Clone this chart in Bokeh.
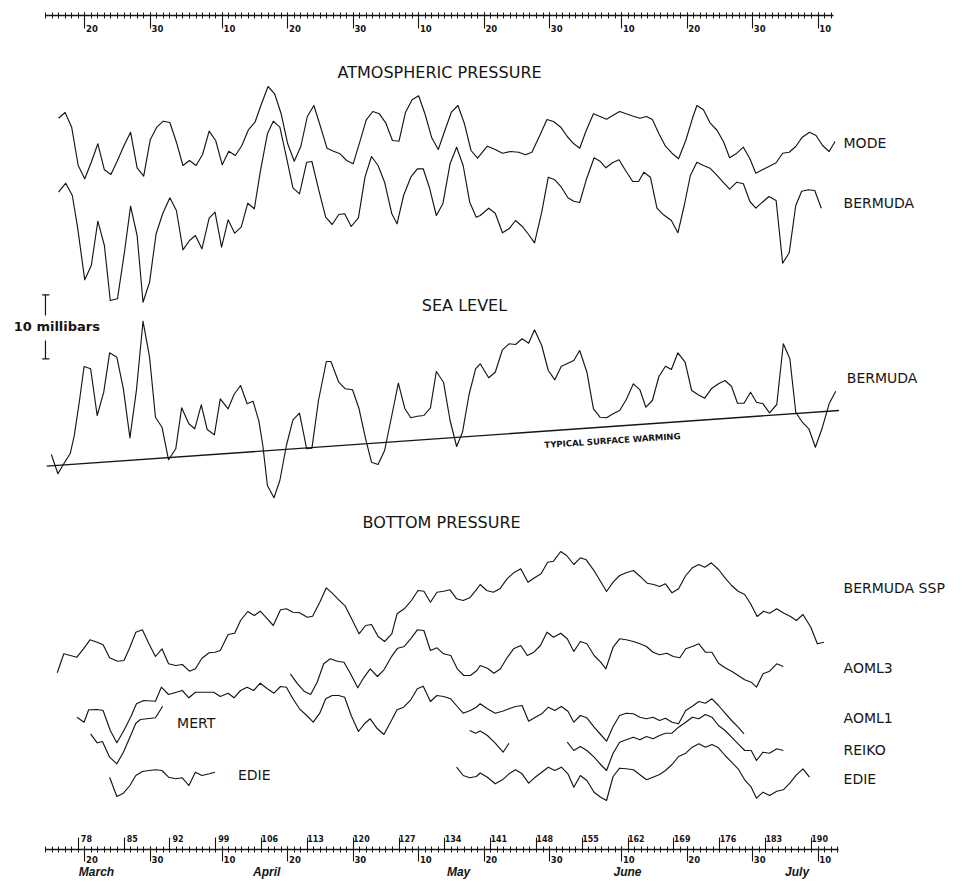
from bokeh.plotting import figure
from bokeh.models import Range1d, LinearAxis, FixedTicker
from bokeh.core.properties import value
from bokeh.embed import file_html
from bokeh.resources import INLINE

NAN = float("nan")

# ---------------- tick labels (day of year) ----------------
dom_days = [79, 89, 100, 110, 120, 130, 140, 150, 161, 171, 181, 191]
dom_labels = ["20", "30", "10", "20", "30", "10", "20", "30", "10", "20", "30", "10"]
daynum_days = [78, 85, 92, 99, 106, 113, 120, 127, 134, 141, 148, 155, 162, 169, 176, 183, 190]
daynum_labels = [str(d) for d in daynum_days]
month_names = ["March", "April", "May", "June", "July"]
month_label_days = [80.8, 106.8, 136.1, 161.9, 187.8]
ruler_days = list(range(73, 195))

# ---------------- data: day of year, relative level (chart units, 6.4 units = 1 mb) ----------------
# Atmospheric pressure - MODE
mode_day = list(range(75, 140)) + [
    140.5, 141.7, 142.8, 144.0, 145.3, 146.3, 147.3, 148.5, 149.6, 150.6,
    151.7, 152.7, 153.7, 154.6, 155.6, 156.7, 157.7, 158.7, 159.7, 160.7,
    161.7, 162.8, 163.8, 164.8, 165.7, 166.7, 167.7, 168.7, 169.7, 170.8,
    171.8, 172.5, 173.5, 174.5, 175.6, 176.6, 177.5, 178.6, 179.6, 180.6,
    181.5, 182.5, 183.5, 184.6, 185.6, 186.6, 187.6, 188.6, 189.7, 190.7,
    191.7, 192.7, 193.6]
mode_val = [
    22.3, 28, 13.3, -25, -38.3, -21.7, -3.3, -29.3, -34, -20,
    -5, 8.3, -27.3, -35.7, 0.7, 13.3, 19.3, 18, -1.7, -25,
    -20, -25, -14, 9.3, 0, -24.3, -10.7, -15, -5, 10.7,
    18.3, 36.7, 54, 46.7, 26.7, -3.3, -20.7, -6, 24, 35,
    14, -7.7, -10.7, -13.3, -20, -23.3, -1.7, 20.7, 29, 26.7,
    17.3, 0, -0.7, 28.3, 40.7, 44.7, 26, 2.7, -9, 10,
    28.3, 35, 16.7, -10, -17.7,
    -5.7, -9, -12.7, -11, -11.7, -14.3, -11.7, 5, 21, 19,
    13.3, 4, -3.3, -7.7, 10, 26.7, 24, 21.3, 25.3, 29,
    26.7, 24.3, 22.3, 24, 21, 6.7, -5.7, -12.7, -18.3, 0,
    21.7, 35, 30.7, 17.7, 10, -1.7, -17.3, -12.7, -6.7, -18.3,
    -32.7, -29.3, -26, -22.3, -12.7, -11.7, -6, 3.3, 8.3, 5,
    -5, -11, -1]

# Atmospheric pressure - BERMUDA
bda_atm_day = [
    75.0, 76.1, 77.1, 77.9, 79.0, 80.0, 81.0, 82.0, 82.9, 84.0,
    85.1, 86.0, 87.0, 87.9, 88.9, 89.9, 90.9, 92.0, 93.0, 94.0,
    95.0, 95.9, 96.9, 98.0, 98.9, 99.9, 100.9, 101.9, 102.9, 103.9,
    104.9, 105.8, 106.9, 107.8, 108.8, 109.8, 110.8, 111.8, 112.9, 113.7,
    114.7, 115.8, 116.8, 117.8, 118.7, 119.7, 120.8, 121.8, 122.8, 123.8,
    124.8, 125.9, 126.7, 127.7, 128.8, 129.8, 130.7, 131.7, 132.7, 133.7,
    134.8, 135.8, 136.8, 137.8, 138.8, 139.4,
    140.7, 141.7, 142.8, 143.8, 144.8, 145.8, 146.8, 147.7, 148.8, 149.8,
    150.8, 151.8, 152.8, 153.7, 154.6, 155.6, 156.8, 157.7, 158.6, 159.6,
    160.6, 161.6, 162.7, 163.6, 164.4, 165.4, 166.4, 167.4, 168.6, 169.6,
    170.6, 171.5, 172.5, 173.5, 174.5, 175.5, 176.5, 177.5, 178.6, 179.6,
    180.6, 181.5, 182.5, 183.5, 184.6, 185.6, 186.6, 187.6, 188.5, 189.5,
    190.5, 191.5]
bda_atm_val = [
    18.3, 27.3, 15, -16.7, -69.3, -55, -10.7, -35, -90, -88.3,
    -40, 4.3, -25, -91.7, -71.7, -23.3, -3.3, 12.7, 0, -39.3,
    -30, -25, -38.3, -7.7, -1.7, -36.7, -9.3, -22.7, -16.7, 7.3,
    1.7, 38.3, 76.7, 89.3, 83.3, 53.3, 22.7, 16.7, 48.3, 49,
    21.7, -6.7, -14, -4, -3.3, -16, -7.3, 33.3, 54, 45,
    28.3, -3.3, -13.3, 15, 33.3, 41.7, 41.7, 21.7, -5, 6.7,
    46.7, 63.3, 45, 8.3, -6.7, -5,
    2.3, -2.7, -22.3, -18.3, -10, -15.7, -24, -32.3, -1.7, 33.3,
    30.7, 23.3, 12.7, 9.3, 8, 30.7, 52.7, 49.3, 42.7, 47.7,
    50.7, 40, 29, 29, 38.3, 33.3, 2.3, -4.3, -10, -22.3,
    6, 35, 48.3, 45, 42.3, 35.7, 28.3, 21.3, 28.3, 26.7,
    9, 2.3, 8.3, 14, 10, -52.7, -42.3, 5, 19.3, 20.7,
    20, 2.3]

# Sea level - BERMUDA
sea_day = [
    73.9, 74.9, 75.8, 76.8, 77.4, 78.2, 78.9, 79.9, 80.9, 81.9,
    82.8, 83.9, 84.9, 85.9, 86.9, 87.9, 88.9, 89.8, 90.8, 91.8,
    92.9, 93.8, 94.9, 95.8, 96.8, 97.7, 98.8, 99.7, 100.9, 101.8,
    102.8, 103.8, 104.7, 105.6, 106.2, 106.9, 107.9, 108.8, 109.8, 110.8,
    111.8, 112.9, 113.7, 114.7, 115.9, 116.6, 117.8, 118.8, 119.9, 120.9,
    121.9, 122.8, 123.8, 124.8, 125.9, 126.9, 127.9, 128.8, 129.8, 130.8,
    131.8, 132.7, 133.8, 134.8, 135.8, 136.7, 137.7, 138.7, 139.4,
    140.7, 141.7, 142.8, 143.8, 144.8, 145.8, 146.8, 147.7, 148.8, 149.8,
    150.8, 151.8, 152.8, 153.7, 154.6, 155.7, 156.7, 157.7, 158.7, 159.7,
    160.7, 161.7, 162.8, 163.8, 164.7, 165.7, 166.7, 167.7, 168.6, 169.6,
    170.7, 171.7, 172.7, 173.7, 174.7, 175.8, 176.8, 177.8, 178.7, 179.7,
    180.7, 181.6, 182.6, 183.6, 184.7, 185.7, 186.7, 187.6, 188.6, 189.6,
    190.6, 191.6, 192.7, 193.7]
sea_val = [
    -34, -53.3, -43.3, -32.7, -15, 20, 54, 51.7, 5, 28.3,
    67.7, 63.3, 31.7, -17.3, 30.7, 99.3, 63.3, 3.3, -6.7, -39.3,
    -28.3, 12.7, -3.3, -8.3, 15.7, -9, -14.3, 21.7, 11.7, 26,
    35, 16.7, 19.3, -0.7, -25, -65, -77.3, -60, -25, 0.7,
    7.3, -28.3, -27.7, 20, 59, 59, 38.3, 31.7, 30.7, 11.7,
    -18.3, -41.7, -44, -30, 5, 37.3, 11.7, 2.7, 4.3, 5,
    12.7, 49, 38.3, 0, -26, -11.7, 26, 51.7, 56.7,
    42.7, 48.3, 70.7, 76.7, 76, 81.7, 77.3, 90.7, 75, 50,
    40.7, 54.3, 57.3, 60, 70, 48.3, 11.7, 3.3, 2.7, 6.7,
    10, 20.7, 36.7, 30.7, 13.3, 20, 44, 54.3, 51, 67.7,
    58.3, 30, 25.7, 22.3, 31.7, 36.7, 40, 34, 17.3, 17.3,
    28.3, 18.3, 16.7, 7.7, 16, 76.7, 61.7, 8.3, -1.7, -8.3,
    -26.7, -8.3, 16.7, 29.3]
# "Typical surface warming" reference line
warming_day = [73.2, 194.2]
warming_val = [-45.7, 10.0]

# Bottom pressure - BERMUDA SSP
ssp_day = [
    74.8, 75.8, 76.8, 77.8, 78.8, 79.8, 80.9, 81.8, 82.8,
    84.0, 85.0, 85.9, 86.8, 87.8, 88.8, 89.8, 90.8, 91.8, 92.9,
    93.9, 95.0, 95.9, 96.9, 98.0, 98.9, 99.7, 100.9, 101.9, 102.8,
    103.9, 104.9, 105.8, 106.9, 107.8, 108.9, 109.8, 110.8, 111.8, 113.0,
    113.8, 114.9, 115.9, 116.8, 117.8, 118.8, 119.9, 120.9, 121.9, 122.8,
    123.8, 124.8, 125.9, 126.7, 127.9, 128.9, 129.9, 130.8, 131.8, 132.8,
    133.8, 134.8, 135.8, 136.8, 137.8, 138.8, 139.4,
    140.4, 141.4, 142.4, 143.5, 144.5, 145.6, 146.7, 147.7, 148.7, 149.7,
    150.6, 151.7, 152.6, 153.7, 154.7, 155.6, 156.7, 157.7, 158.7, 159.7,
    160.7, 161.7, 162.8, 163.8, 164.9, 165.9, 166.8, 167.7, 168.7, 169.7,
    170.8, 171.8, 172.8, 173.7, 174.7, 175.8, 176.8, 177.8, 178.8, 179.8,
    180.7, 181.7, 182.7, 183.6, 184.7, 185.8, 186.8, 187.7, 188.7, 189.9,
    190.9, 191.9]
ssp_val = [
    -52.3, -33.3, -35, -36.7, -28.3, -19.3, -21.7, -24.3, -37.3,
    -40.7, -40, -26.7, -11.7, -9.3, -23.3, -36, -28.3, -43.3, -45,
    -44, -50.7, -48.3, -37.7, -32.3, -31.7, -30, -14, -12.7, 0,
    9, 5, 9.3, 1.7, -5, 10.7, 11.7, 8.3, 7.7, 3.3,
    4.3, 18.3, 32.7, 27.3, 20.7, 14.3, 0, -13.3, -5, -4,
    -16, -21, -13.3, 6.7, 12.3, 20, 30, 29.3, 18.3, 28.3,
    29.3, 30.7, 21.7, 20, 22.7, 30.7, 36,
    30, 28.3, 31.7, 41.7, 47.7, 51.7, 38.3, 42.7, 46.7, 58.3,
    59.3, 69, 65, 56, 62.7, 60.7, 50.7, 40, 29, 38.3,
    45, 47.7, 50, 44.3, 37.3, 36, 34, 36.7, 27.7, 31.7,
    45, 52.7, 56, 53.3, 57.7, 51, 42.7, 35, 29.3, 26,
    16.7, 4, 9.3, 7.3, 11.7, 7.3, 4, 0, 6, -6.7,
    -23.3, -21.7]

# Bottom pressure - AOML3
aoml3_day = [
    110.4, 111.5, 112.5, 113.5, 114.5, 115.5, 116.5, 117.6, 118.6, 119.6,
    120.7, 121.6, 122.6, 123.7, 124.7, 125.8, 126.8, 127.8, 128.9, 129.8,
    130.8, 131.8, 132.8, 133.8, 134.9, 135.9, 136.9, 137.9, 138.9, 139.4,
    140.5, 141.5, 142.5, 143.5, 144.5, 145.6, 146.6, 147.6, 148.6, 149.6,
    150.6, 151.7, 152.7, 153.7, 154.7, 155.7, 156.8, 157.8, 158.6, 159.7,
    160.7, 161.7, 162.8, 163.8, 164.8, 165.8, 166.8, 167.9, 168.9, 169.9,
    170.8, 171.8, 172.8, 173.8, 174.8, 175.8, 176.8, 177.8, 178.8, 179.8,
    180.8, 181.6, 182.6, 183.6, 184.7, 185.7]
aoml3_val = [
    -13.3, -23.3, -30.7, -34, -21.7, -3.3, 1.7, -0.7, -1.7, -13.3,
    -27.3, -17.3, -8.3, -16, -9.3, 3.3, 12.3, 14, 22.7, 30.7,
    30, 10, 12.7, 6.7, 5, -8.3, -15, -15, -10, -5,
    -7.7, -12.7, -8.3, 2.7, 11.7, 15, 5, 8.3, 15, 28.3,
    23.3, 27.3, 21.7, 9, 19, 16.7, 5, -1.7, -8.3, 13.3,
    21.7, 20.7, 19, 16.7, 14, 8.3, 5.7, 7.3, 4, 2.7,
    11.7, 14, 16.7, 8.3, 8.3, -2.7, -7.3, -10.7, -15, -19.3,
    -21.7, -26.7, -13.3, -10.7, -3.3, -6]

# Bottom pressure - AOML1
aoml1_day = [
    77.8, 78.9, 79.6, 80.9, 81.8, 82.9, 83.9, 84.9, 86.0, 86.9,
    88.0, 89.8, 90.7, 91.8, 93.9, 94.9, 95.9, 98.7, 99.7, 100.9,
    101.8, 102.8, 103.8, 104.8, 105.8, 106.9, 107.9, 108.9, 109.8, 110.8,
    111.8, 112.9, 113.9, 114.9, 115.8, 116.8, 117.8, 118.7, 119.7, 120.8,
    121.8, 122.6, 123.7, 124.7, 125.7, 126.7, 127.7, 128.8, 129.8, 130.7,
    131.8, 132.8, 133.8, 134.9, 135.9, 136.8, 137.9, 138.8, 139.4, 140.5,
    141.7, 142.8, 143.8, 144.8, 145.8, 146.8, 147.7, 148.8, 149.8, 150.8,
    151.8, 152.8, 153.7, 154.7, 155.7, 156.8, 157.8, 158.7, 159.7, 160.7,
    161.7, 162.8, 163.8, 164.8, 165.8, 166.8, 167.7, 168.7, 169.7, 170.8,
    171.8, 172.8, 173.8, 174.8, 175.8, 176.8, 177.8, 178.8, 179.7]
aoml1_val = [
    -6.7, -11.7, 0.7, 1, 0, -20, -32.3, -21, -6.7, 6.7,
    10, 9.3, 23.3, 16, 20, 12.7, 18.3, 18.3, 14, 17.3,
    12.7, 20, 23.3, 20, 27.3, 21.7, 17.3, 24, 23.3, 11.7,
    1.7, -5, -11.7, -2.7, 11.7, 15, 15, 13.3, -5, -21,
    -12.7, -8.3, -18.3, -24, -11.7, 0.7, 3.3, 10.7, 21.7, 24.3,
    9, 15, 14, 11.7, 4, -2.7, 0, 3.3, 6.7, 1.7,
    -2.7, -0.7, 1.7, 4, 5, -10.7, -7.3, -3.3, 3.3, 0,
    4, -0.7, -11.7, -5, -7.3, -16.7, -24, -30.7, -16, -5,
    -2.7, -3.3, -6.7, -8.3, -6.7, -10, -7.7, -11.7, -13.3, 0,
    4.3, 9, 7.3, 11.7, 5, -2.7, -10, -16.7, -23.3]

# Bottom pressure - MERT
mert_day = [79.9, 80.9, 81.7, 82.8, 83.9, 84.9, 85.9, 86.8, 87.5, 88.5, 89.8, 90.9]
mert_val = [-3.3, -12.3, -11, -26.7, -33.3, -21.7, -6.7, 7.3, 11, 11.7, 12.7, 24.3]

# Bottom pressure - REIKO (gap between records)
reiko_day = [
    137.8, 138.7, 139.4, 140.5, 141.7, 142.9, 143.8, NAN,
    152.7, 153.7, 154.7, 155.7, 156.8, 157.8, 158.7, 159.7, 160.7, 161.7,
    162.8, 163.8, 164.8, 165.8, 166.8, 167.7, 168.7, 169.7, 170.8, 171.8,
    172.8, 173.8, 174.8, 175.8, 176.8, 177.8, 178.8, 179.8, 180.8, 181.6,
    182.6, 183.6, 184.7, 185.7]
reiko_val = [
    10, 7.3, 9.5, 5, -2.7, -11.7, -2.7, NAN,
    -1.7, -10, -6, -10, -16.7, -24, -30, -12.7, -1.7, 0.7,
    3.3, 0.7, 4, 1.7, 5, 7.3, 7.3, 13.3, 18.3, 23.3,
    21.7, 26, 23.3, 15, 10, 3.3, -3.3, -10, -10, -20,
    -11.7, -12.7, -8.3, -10]

# Bottom pressure - EDIE (two records)
edie_day = [
    82.8, 83.9, 84.9, 85.9, 86.8, 87.8, 88.8, 89.8, 90.8, 91.8,
    92.9, 93.9, 94.9, 95.9, 96.9, 98.0, 98.9, NAN,
    135.8, 136.8, 137.8, 138.8, 139.4, 140.5, 141.7, 142.8, 143.8, 144.8,
    145.8, 146.8, 147.7, 148.8, 149.8, 150.8, 151.8, 152.8, 153.7, 154.7,
    155.7, 156.8, 157.8, 158.7, 159.7, 160.7, 161.7, 162.8, 163.8, 164.8,
    165.8, 166.8, 167.7, 168.7, 169.7, 170.8, 171.8, 172.8, 173.8, 174.8,
    175.8, 176.8, 177.8, 178.8, 179.8, 180.8, 181.6, 182.6, 183.6, 184.7,
    185.7, 186.7, 187.7, 188.7, 189.7]
edie_val = [
    -1.7, -21, -17.7, -10, 0, 4, 5, 5.7, 5, -1.7,
    -3.3, -2.3, -10, 3.3, 0, 1.7, 3.3, NAN,
    8.3, 0, -2.3, -1, 2.5, -1.7, -8.3, -4.3, 1.7, 5.7,
    1.7, -7.7, -2.3, 3.3, 8.3, 5, 8.3, 1.7, -11.7, 0,
    -5, -16.7, -21.7, -25, -1, 7.3, 6.7, 5.7, 0.7, -4.3,
    -1.7, 1, 5, 11, 19, 22.3, 28.3, 31.7, 28.3, 31,
    27.7, 20, 13.3, 6.7, -4.3, -11.7, -22.7, -16.7, -20, -15.7,
    -14.3, -7.7, 0.7, 6.7, -1.7]

# ---------------- layout ----------------
W, H = 960, 880
PX_PER_DAY = 6.547
X0 = 66.132
X1 = X0 + W / PX_PER_DAY
Y0, Y1 = 2.0, 882.0
MB_UNITS = 6.4                      # chart units per millibar
Y_TOP_RULER = 867.3
Y_BOT_RULER = 32.7
INK = "#151515"

# vertical placement (baseline of each trace)
level = {"mode": 742, "bda_atm": 672, "sea": 462, "ssp": 262, "aoml3": 222,
         "aoml1": 172, "mert": 152, "reiko": 142, "edie": 107}

p = figure(width=W, height=H, x_range=Range1d(X0, X1), y_range=Range1d(Y0, Y1),
           x_axis_type=None, y_axis_type=None, toolbar_location=None,
           output_backend="svg", min_border=0, outline_line_color=None,
           background_fill_color="white", border_fill_color="white")
p.extra_x_ranges = {"lab_a": Range1d(X0 - 1.1, X1 - 1.1),
                    "lab_b": Range1d(X0 - 1.25, X1 - 1.25)}


def trace(days, vals, key, width=1.15):
    p.line(days, [v + level[key] for v in vals], line_color=INK,
           line_width=width, line_join="round")


trace(mode_day, mode_val, "mode")
trace(bda_atm_day, bda_atm_val, "bda_atm")
trace(sea_day, sea_val, "sea")
trace(warming_day, warming_val, "sea", width=1.3)
trace(ssp_day, ssp_val, "ssp")
trace(aoml3_day, aoml3_val, "aoml3")
trace(aoml1_day, aoml1_val, "aoml1")
trace(mert_day, mert_val, "mert")
trace(reiko_day, reiko_val, "reiko")
trace(edie_day, edie_val, "edie")

# ---------------- rulers (axes) ----------------
def ruler_ticks(loc, side, bounds, tick_out, tick_in, ticks, minor):
    ax = LinearAxis(fixed_location=loc, bounds=bounds,
                    ticker=FixedTicker(ticks=ticks, minor_ticks=minor),
                    major_label_overrides={d: "" for d in ticks},
                    axis_line_color=INK if minor else None, axis_line_width=1.4,
                    major_tick_line_color=INK, major_tick_line_width=1.1,
                    minor_tick_line_color=INK, minor_tick_line_width=1.0,
                    major_tick_out=tick_out, major_tick_in=tick_in,
                    minor_tick_out=3, minor_tick_in=3)
    p.add_layout(ax, side)


def ruler_labels(loc, side, rng, ticks, labels, standoff, size, style="bold",
                 font="DejaVu Sans"):
    kw = {} if rng is None else {"x_range_name": rng}
    ax = LinearAxis(fixed_location=loc, ticker=FixedTicker(ticks=ticks),
                    major_label_overrides=dict(zip(ticks, labels)),
                    axis_line_color=None, major_tick_line_color=None,
                    minor_tick_line_color=None, major_tick_out=0, major_tick_in=0,
                    major_label_standoff=standoff, major_label_text_font=font,
                    major_label_text_font_size=size, major_label_text_font_style=style,
                    major_label_text_color=INK, **kw)
    p.add_layout(ax, side)


# top ruler
ruler_ticks(Y_TOP_RULER, "below", (73, 193.4), 13, 3, dom_days, ruler_days[:-1])
ruler_labels(Y_TOP_RULER, "below", "lab_a", dom_days, dom_labels, 10, "8.5px")
# bottom ruler
ruler_ticks(Y_BOT_RULER, "below", (73, 194.2), 12, 3, dom_days, ruler_days)
ruler_ticks(Y_BOT_RULER, "above", (73, 194.2), 12, 0, daynum_days, [])
ruler_labels(Y_BOT_RULER, "below", "lab_a", dom_days, dom_labels, 6, "8.5px")
ruler_labels(Y_BOT_RULER, "above", "lab_b", daynum_days, daynum_labels, 8, "8px")
ruler_labels(Y_BOT_RULER, "below", None, month_label_days, month_names, 15, "12px",
             style="bold italic", font="Liberation Sans")

# ---------------- titles and series names ----------------
p.text(x=[133.2, 137.0, 133.5], y=[810, 577, 360],
       text=["ATMOSPHERIC PRESSURE", "SEA LEVEL", "BOTTOM PRESSURE"],
       text_font=value("DejaVu Sans"), text_font_size=value("16px"),
       text_align="center", text_baseline="middle", text_color=INK)

p.text(x=[194.9, 194.9, 195.4, 194.9, 194.9, 194.9, 194.9, 194.9, 93.1, 102.4],
       y=[740, 680, 505, 295, 215, 165, 133, 104, 160, 107.7],
       text=["MODE", "BERMUDA", "BERMUDA", "BERMUDA SSP", "AOML3", "AOML1",
             "REIKO", "EDIE", "MERT", "EDIE"],
       text_font=value("DejaVu Sans"), text_font_size=value("14px"),
       text_align="left", text_baseline="middle", text_color=INK)

p.text(x=[159.6], y=[442], text=["TYPICAL SURFACE WARMING"], angle=0.066,
       text_font=value("DejaVu Sans"), text_font_size=value("8.5px"),
       text_font_style="bold", text_align="center", text_baseline="middle",
       text_color=INK)

# ---------------- 10 millibar scale bar ----------------
bar_x = 73.0
bar_mid = 555.7
bar_top = bar_mid + 5 * MB_UNITS
bar_bot = bar_mid - 5 * MB_UNITS
p.segment(x0=[bar_x, bar_x, bar_x - 0.5, bar_x - 0.5],
          y0=[bar_top, bar_bot, bar_top, bar_bot],
          x1=[bar_x, bar_x, bar_x + 0.6, bar_x + 0.6],
          y1=[bar_mid + 11.3, bar_mid - 13.7, bar_top, bar_bot],
          line_color=INK, line_width=1.2)
p.text(x=[68.16], y=[bar_mid], text=["10 millibars"],
       text_font=value("DejaVu Sans"), text_font_size=value("13px"),
       text_font_style="bold", text_align="left", text_baseline="middle",
       text_color=INK)

open("out.html", "w").write(file_html(p, INLINE))
